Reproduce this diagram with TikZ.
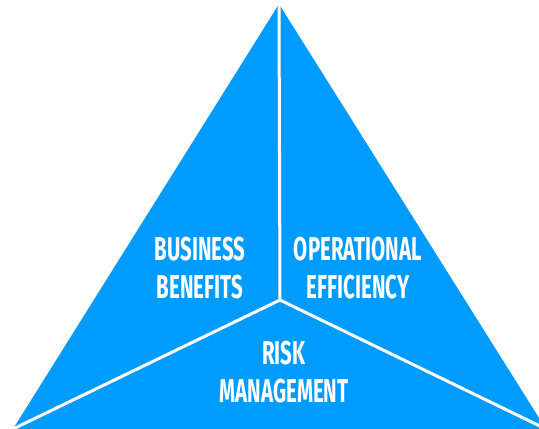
\documentclass[tikz,border=0pt]{standalone}
\usepackage{fontspec}
\newfontfamily\labelfont[FakeStretch=0.62]{Fira Sans}
\usetikzlibrary{positioning}
\definecolor{skyblue}{RGB}{0,155,255}

\begin{document}
\begin{tikzpicture}[x=1pt, y=1pt,
                    divider/.style={draw=white, line width=3pt},
                    part label/.style={text=white, align=center,
                      font=\labelfont\bfseries\fontsize{33}{38}\selectfont}]

  \useasboundingbox (0,0) rectangle (539,429);
  \clip (0,0) rectangle (539,429);

  \coordinate (apex) at (279,425);
  \coordinate (left) at (13,0);
  \coordinate (right) at (546,0);
  \coordinate (mid) at (280,129);

  \fill[skyblue] (apex) -- (left) -- (right) -- cycle;

  \path[divider]
    (apex) edge (mid)
    (mid) edge (left)
    (mid) edge (right)
;

  \node[part label] (business) at (200,161) {BUSINESS\\BENEFITS};
  \node[part label] (operational) at (358,161) {OPERATIONAL\\EFFICIENCY};
  \node[part label] (risk) at (284,57) {RISK\\MANAGEMENT};
\end{tikzpicture}
\end{document}
